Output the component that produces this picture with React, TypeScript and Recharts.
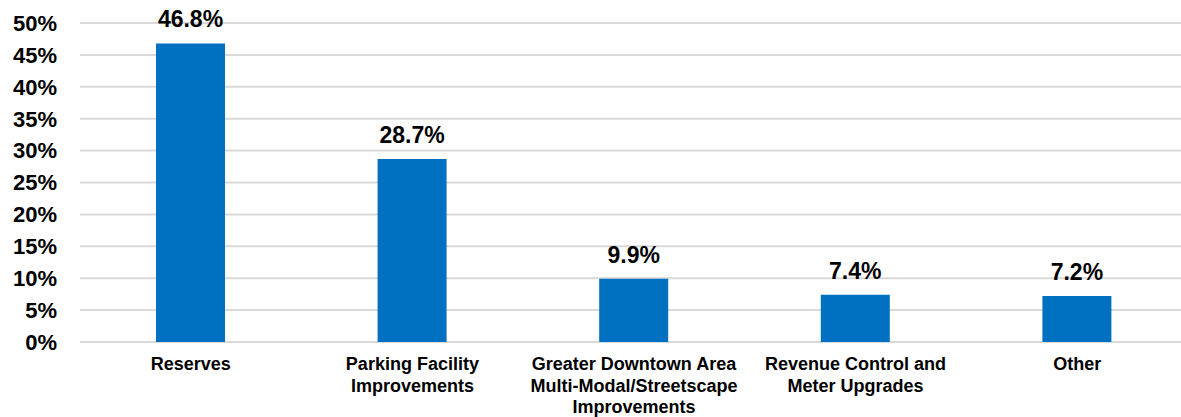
import React from "react";
import { BarChart, Bar, XAxis, YAxis, CartesianGrid, LabelList } from "recharts";

const categories = [
  "Reserves",
  "Parking Facility\nImprovements",
  "Greater Downtown Area\nMulti-Modal/Streetscape\nImprovements",
  "Revenue Control and\nMeter Upgrades",
  "Other",
];
const shares = [46.8, 28.7, 9.9, 7.4, 7.2];
const yTicks = [0, 5, 10, 15, 20, 25, 30, 35, 40, 45, 50];

const data = categories.map((c, i) => ({ name: c, value: shares[i] }));

const FONT = "'Liberation Sans', Arial, sans-serif";

const CategoryTick = (props: any) => {
  const { x, y, payload } = props;
  const lines = String(payload.value).split("\n");
  return (
    <g>
      {lines.map((l: string, i: number) => (
        <text
          key={i}
          x={x}
          y={y + 20 + i * 21.5}
          textAnchor="middle"
          fontFamily={FONT}
          fontWeight="bold"
          fontSize={18}
          fill="#000"
        >
          {l}
        </text>
      ))}
    </g>
  );
};

const ValueLabel = (props: any) => {
  const { x, y, width, value } = props;
  return (
    <text
      x={x + width / 2}
      y={y - 16}
      textAnchor="middle"
      fontFamily={FONT}
      fontWeight="bold"
      fontSize={23}
      fill="#000"
    >
      {Number(value).toFixed(1)}%
    </text>
  );
};

export default function App() {
  return (
    <div
      style={{
        position: "absolute",
        left: 0,
        top: 0,
        width: 1181,
        height: 417,
        overflow: "hidden",
        background: "#fff",
      }}
    >
      <BarChart
        width={1188}
        height={417}
        data={data}
        margin={{ top: 23, right: 0, bottom: 0, left: 0 }}
        barSize={69}
      >
        <CartesianGrid vertical={false} stroke="#d9d9d9" strokeWidth={2} />
        <XAxis
          dataKey="name"
          axisLine={false}
          tickLine={false}
          height={75}
          interval={0}
          tick={<CategoryTick />}
        />
        <YAxis
          domain={[0, 50]}
          ticks={yTicks}
          width={80}
          axisLine={false}
          tickLine={false}
          tickSize={0}
          tickMargin={23}
          interval={0}
          tickFormatter={(v: number) => `${v}%`}
          tick={{ fontFamily: FONT, fontWeight: "bold", fontSize: 22, fill: "#000" }}
        />
        <Bar dataKey="value" fill="#0070C0" isAnimationActive={false}>
          <LabelList dataKey="value" content={<ValueLabel />} />
        </Bar>
      </BarChart>
    </div>
  );
}
